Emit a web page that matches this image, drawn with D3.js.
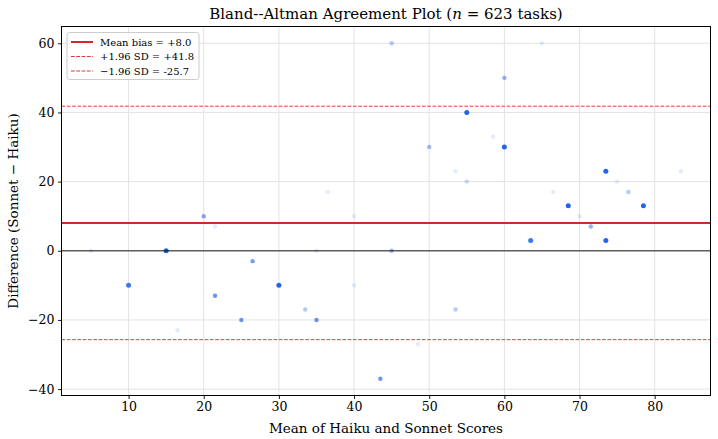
<!DOCTYPE html>
<html>
<head>
<meta charset="utf-8">
<script src="https://cdn.jsdelivr.net/npm/d3@7"></script>
<style>
  body { margin: 0; background: #fff; }
  svg text { font-family: "DejaVu Serif", serif; fill: #000; }
</style>
</head>
<body>
<svg id="chart" width="718" height="439"></svg>
<script>
// mean of the two scores for each task group
const meanScores = [45, 65, 60, 55, 50, 58.5, 60, 53.5, 55, 73.5,
                    75, 76.5, 66.5, 68.5, 78.5, 70, 71.5, 83.5, 63.5, 73.5,
                    20, 21.5, 36.5, 40, 5, 15, 35, 45, 10, 26.5,
                    21.5, 30, 16.5, 25, 33.5, 35, 40, 43.5, 53.5, 48.5];
// Sonnet - Haiku difference
const diffs = [60, 60, 50, 40, 30, 33, 30, 23, 20, 23,
               20, 17, 17, 13, 13, 10, 7, 23, 3, 3,
               10, 7, 17, 10, 0, 0, 0, 0, -10, -3,
               -13, -10, -23, -20, -17, -20, -10, -37, -17, -27];
// how many tasks sit on each spot (estimated from darkness)
const counts = [3, 1, 5, 60, 4, 1, 31, 1, 2, 60,
                1, 3, 1, 80, 70, 1, 5, 1, 15, 40,
                6, 1, 1, 1, 1, 80, 1, 4, 15, 7,
                8, 80, 1, 8, 3, 8, 1, 8, 3, 1];

const meanBias = 8.0, upperLoA = 41.8, lowerLoA = -25.7;
const xTicks = [10, 20, 30, 40, 50, 60, 70, 80];
const yTicks = [-40, -20, 0, 20, 40, 60];
const legendLabels = ["Mean bias = +8.0", "+1.96 SD = +41.8", "\u22121.96 SD = -25.7"];

const points = meanScores.map((m, i) => ({ m: m, d: diffs[i], c: counts[i] }));

const margin = { top: 26.5, right: 7.5, bottom: 43.5, left: 61.5 };
const W = 718, H = 439;
const svg = d3.select("#chart");

const x = d3.scaleLinear().domain([1.075, 87.425]).range([margin.left, W - margin.right]);
const y = d3.scaleLinear().domain([-41.85, 64.85]).range([H - margin.bottom, margin.top]);

// grid
const grid = svg.append("g");
grid.selectAll(".gx").data(xTicks).enter().append("line")
    .attr("x1", d => x(d)).attr("x2", d => x(d))
    .attr("y1", margin.top).attr("y2", H - margin.bottom)
    .attr("stroke", "#e3e3e3").attr("stroke-width", 1);
grid.selectAll(".gy").data(yTicks).enter().append("line")
    .attr("y1", d => y(d)).attr("y2", d => y(d))
    .attr("x1", margin.left).attr("x2", W - margin.right)
    .attr("stroke", "#e3e3e3").attr("stroke-width", 1);

// points, overlapping tasks stack up alpha
const alpha = 0.13;
svg.append("g").selectAll("circle").data(points).enter().append("circle")
    .attr("cx", d => x(d.m)).attr("cy", d => y(d.d))
    .attr("r", d => d.c > 10 ? 2.5 : 2.2)
    .attr("fill", "#2563eb")
    .attr("fill-opacity", d => 1 - Math.pow(1 - alpha, d.c));

// reference lines
const lines = svg.append("g");
lines.append("line")
    .attr("x1", margin.left).attr("x2", W - margin.right)
    .attr("y1", y(0)).attr("y2", y(0))
    .attr("stroke", "#000").attr("stroke-opacity", 0.6).attr("stroke-width", 1.3);
lines.append("line")
    .attr("x1", margin.left).attr("x2", W - margin.right)
    .attr("y1", y(meanBias)).attr("y2", y(meanBias))
    .attr("stroke", "#d62728").attr("stroke-width", 2);
[upperLoA, lowerLoA].forEach(v => {
  lines.append("line")
      .attr("x1", margin.left).attr("x2", W - margin.right)
      .attr("y1", y(v)).attr("y2", y(v))
      .attr("stroke", "#e03336").attr("stroke-opacity", 0.95)
      .attr("stroke-width", 1).attr("stroke-dasharray", "3.7,1.6");
});

// axes
const fmt = d => (d < 0 ? "\u2212" + Math.abs(d) : d);
const xAxis = svg.append("g")
    .attr("transform", "translate(0," + (H - margin.bottom) + ")")
    .call(d3.axisBottom(x).tickValues(xTicks).tickFormat(fmt).tickSize(3.5).tickPadding(3.5));
const yAxis = svg.append("g")
    .attr("transform", "translate(" + margin.left + ",0)")
    .call(d3.axisLeft(y).tickValues(yTicks).tickFormat(fmt).tickSize(3.5).tickPadding(3.5));
[xAxis, yAxis].forEach(a => {
  a.select(".domain").remove();
  a.selectAll("text").style("font-family", "DejaVu Serif").style("font-size", "12.5px").attr("fill", "#000");
  a.selectAll("line").attr("stroke", "#000").attr("stroke-width", 0.9);
});

// frame
svg.append("rect")
    .attr("x", margin.left).attr("y", margin.top)
    .attr("width", W - margin.left - margin.right)
    .attr("height", H - margin.top - margin.bottom)
    .attr("fill", "none").attr("stroke", "#000").attr("stroke-width", 1);

// title and labels
const title = svg.append("text")
    .attr("x", (margin.left + W - margin.right) / 2).attr("y", 18.5)
    .attr("text-anchor", "middle").style("font-size", "15px");
title.append("tspan").text("Bland--Altman Agreement Plot (");
title.append("tspan").text("n").style("font-style", "italic");
title.append("tspan").text(" = 623 tasks)");

svg.append("text")
    .attr("x", (margin.left + W - margin.right) / 2).attr("y", 432.5)
    .attr("text-anchor", "middle").style("font-size", "13.5px")
    .text("Mean of Haiku and Sonnet Scores");

svg.append("text")
    .attr("transform", "translate(18," + ((margin.top + H - margin.bottom) / 2) + ") rotate(-90)")
    .attr("text-anchor", "middle").style("font-size", "13.5px")
    .text("Difference (Sonnet \u2212 Haiku)");

// legend
const lg = svg.append("g").attr("transform", "translate(67,32.5)");
lg.append("rect").attr("width", 132).attr("height", 47).attr("rx", 2.5)
    .attr("fill", "#fff").attr("fill-opacity", 0.8)
    .attr("stroke", "#cccccc").attr("stroke-width", 1);
const legendStyles = [
  { w: 2, dash: null, color: "#d62728" },
  { w: 1, dash: "3.7,1.6", color: "#e03336" },
  { w: 1, dash: "3.7,1.6", color: "#e03336" }
];
legendLabels.forEach((t, i) => {
  const yy = 9.5 + i * 14.5;
  lg.append("line").attr("x1", 4).attr("x2", 26).attr("y1", yy).attr("y2", yy)
      .attr("stroke", legendStyles[i].color).attr("stroke-width", legendStyles[i].w)
      .attr("stroke-dasharray", legendStyles[i].dash);
  lg.append("text").attr("x", 33).attr("y", yy + 3.6)
      .style("font-size", "10px").text(t);
});
</script>
</body>
</html>
